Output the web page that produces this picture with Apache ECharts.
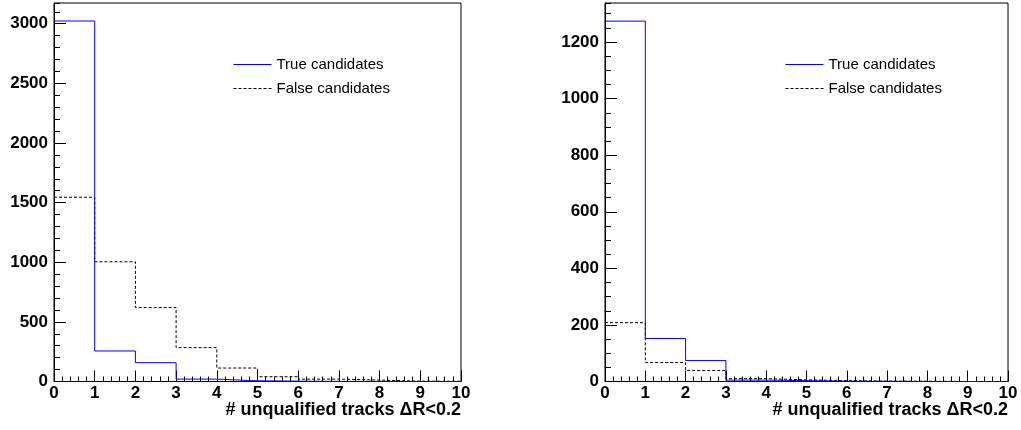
<!DOCTYPE html>
<html><head><meta charset="utf-8">
<script src="https://cdn.jsdelivr.net/npm/echarts@6/dist/echarts.min.js"></script>
<style>html,body{margin:0;padding:0;background:#fff}#c{width:1021px;height:430px}</style>
</head><body><div id="c"></div>
<script>
// ---- data ----
const binEdges = [0, 1, 2, 3, 4, 5, 6, 7, 8, 9, 10];
const seriesNames = ['True candidates', 'False candidates'];
const leftTrue  = [3023, 256, 158, 20, 6, 3, 1, 1, 0, 0];
const leftFalse = [1545, 1004, 620, 284, 113, 40, 20, 12, 3, 2];
const rightTrue  = [1274, 152, 74, 5, 3, 1, 1, 0, 0, 0];
const rightFalse = [208, 67, 39, 10, 6, 3, 1, 1, 0, 0];
const xTitle = '# unqualified tracks \u0394R<0.2';
const leftYMax = 3174, rightYMax = 1338;
const leftYMajor = 500, leftYMinor = 100;
const rightYMajor = 200, rightYMinor = 50;

function steps(values) {
  return binEdges.map((e, i) => [e, values[Math.min(i, values.length - 1)]]);
}

const FONT = 'Liberation Sans, Arial, Helvetica, sans-serif';
const grids = [
  { left: 54, top: 3, width: 407, height: 378.5 },
  { left: 605, top: 3, width: 403, height: 378.5 }
];
const yMax = [leftYMax, rightYMax];
const yMaj = [leftYMajor, rightYMajor];
const yMin = [leftYMinor, rightYMinor];

const option = {
  animation: false,
  backgroundColor: '#fff',
  grid: grids.map(g => Object.assign({ show: true, borderColor: '#000', borderWidth: 1, backgroundColor: 'transparent', containLabel: false }, g)),
  xAxis: [0, 1].map(gi => ({
    type: 'value', gridIndex: gi, min: 0, max: 10, interval: 1,
    axisLine: { show: true, onZero: false, lineStyle: { color: '#000', width: 1 } },
    axisTick: { show: true, inside: true, length: 11, lineStyle: { color: '#000' } },
    minorTick: { show: true, splitNumber: 5, length: 5, lineStyle: { color: '#000' } },
    splitLine: { show: false },
    axisLabel: { color: '#000', fontFamily: FONT, fontWeight: 'bold', fontSize: 17, margin: 3 },
    name: xTitle, nameLocation: 'end', nameGap: 0,
    nameTextStyle: { color: '#000', fontFamily: FONT, fontWeight: 'bold', fontSize: 18, align: 'right', verticalAlign: 'top', padding: [20, 0, 0, 0] }
  })),
  yAxis: [],
  legend: [
    { left: 233, top: 57, padding: 0 },
    { left: 785, top: 57, padding: 0 }
  ].map(l => Object.assign({
    orient: 'vertical', itemWidth: 38, itemHeight: 10, itemGap: 9,
    data: seriesNames, selectedMode: false,
    itemStyle: { opacity: 0 },
    lineStyle: { width: 1 },
    textStyle: { color: '#000', fontFamily: FONT, fontSize: 15, lineHeight: 15 }
  }, l)),
  series: []
};

[0, 1].forEach(gi => {
  option.yAxis.push({
    type: 'value', gridIndex: gi, min: 0, max: yMax[gi], interval: yMaj[gi],
    axisLine: { show: true, onZero: false, lineStyle: { color: '#000', width: 1 } },
    axisTick: { show: true, inside: true, length: 12, lineStyle: { color: '#000' } },
    splitLine: { show: false },
    axisLabel: { color: '#000', fontFamily: FONT, fontWeight: 'bold', fontSize: 17, margin: 6, showMaxLabel: false,
      formatter: v => (v % yMaj[gi] === 0 ? String(v) : '') }
  });
});
[0, 1].forEach(gi => {
  option.yAxis.push({
    type: 'value', gridIndex: gi, min: 0, max: yMax[gi], interval: yMin[gi], position: 'left',
    axisLine: { show: false },
    axisTick: { show: true, inside: true, length: 6, lineStyle: { color: '#000' } },
    splitLine: { show: false },
    axisLabel: { show: false }
  });
});

const sets = [[leftTrue, leftFalse], [rightTrue, rightFalse]];
sets.forEach((pair, gi) => {
  option.series.push({
    name: seriesNames[0], type: 'line', step: 'end', xAxisIndex: gi, yAxisIndex: gi,
    data: steps(pair[0]), symbol: 'none', showSymbol: false, silent: true, z: 3,
    lineStyle: { color: '#0000ff', width: 1 }, itemStyle: { color: 'rgba(0,0,0,0)', borderWidth: 0 }
  });
  option.series.push({
    name: seriesNames[1], type: 'line', step: 'end', xAxisIndex: gi, yAxisIndex: gi,
    data: steps(pair[1]), symbol: 'none', showSymbol: false, silent: true, z: 2,
    lineStyle: { color: '#000', width: 1, type: [3, 2] }, itemStyle: { color: 'rgba(0,0,0,0)', borderWidth: 0 }
  });
});

const chart = echarts.init(document.getElementById('c'), null, { renderer: 'canvas' });
chart.setOption(option);
</script>
</body></html>
